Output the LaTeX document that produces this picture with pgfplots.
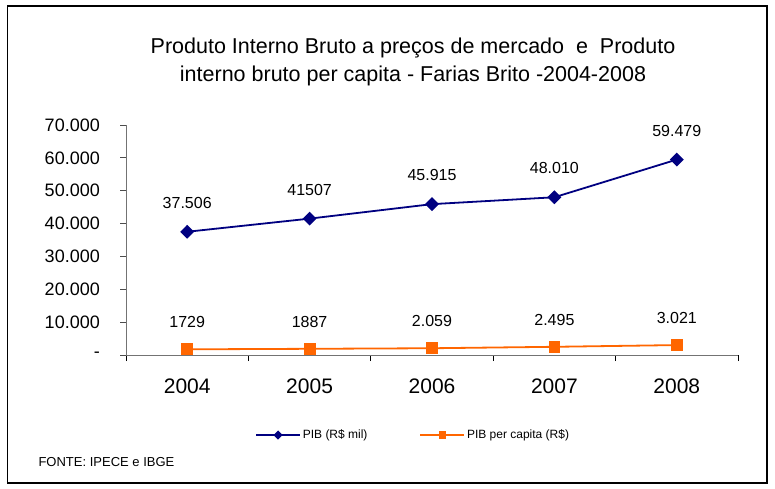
\documentclass[border=0pt]{standalone}
\usepackage{fontspec}
\setmainfont{Liberation Sans}
\usepackage{pgfplots}
\pgfplotsset{compat=1.18}
\definecolor{pibblue}{RGB}{0,0,128}
\definecolor{pcorange}{RGB}{255,102,0}
\pgfplotsset{myimg/.style={legend image code/.code={\draw[##1, mark size=#1, line width=1.5pt, mark repeat=2, mark phase=2] plot coordinates {(0pt,0pt) (22pt,0pt) (44pt,0pt)};}}}
\begin{document}
\begin{tikzpicture}[x=1pt,y=1pt]
\path[use as bounding box] (0,0) rectangle (775,488);
\draw[black, line width=1.3pt] (7.5,5) rectangle (767,482);
\node[align=center, font=\fontsize{21.5}{28}\selectfont] at (413,426)
  {Produto Interno Bruto a preços de mercado\ \ e \ Produto\\interno bruto per capita - Farias Brito -2004-2008};
\node[anchor=west, font=\fontsize{13}{14}\selectfont] at (35,26) {FONTE: IPECE e IBGE};
\begin{axis}[
  at={(126pt,133pt)}, anchor=south west,
  scale only axis, width=612pt, height=230pt,
  xmin=-0.5, xmax=4.5, ymin=0, ymax=70000,
  scaled y ticks=false,
  axis x line*=bottom, axis y line*=left,
  axis line style={black!55, line width=1pt, -},
  xtick={0,1,2,3,4},
  xticklabels={2004,2005,2006,2007,2008},
  minor xtick={-0.5,0.5,1.5,2.5,3.5,4.5},
  ytick={0,10000,20000,30000,40000,50000,60000,70000},
  yticklabels={-,10.000,20.000,30.000,40.000,50.000,60.000,70.000},
  tick align=outside,
  major tick length=6pt, minor tick length=6pt,
  major x tick style={draw=none},
  minor x tick style={black, line width=1pt},
  major y tick style={black!70, line width=1pt},
  x tick label style={font=\fontsize{21}{24}\selectfont, inner sep=0pt, anchor=north, yshift=-18pt},
  y tick label style={font=\fontsize{18}{22}\selectfont, inner sep=0pt, anchor=east, xshift=-20pt},
  legend style={at={(0.211,-0.348)}, anchor=west, draw=none, fill=none,
    font=\fontsize{12}{14}\selectfont, legend columns=2, inner sep=0pt,
    /tikz/every even column/.append style={column sep=50pt}},
  legend cell align=left,
  clip=false,
]
\addplot[color=pibblue, line width=1.8pt, mark=diamond*,
  mark options={solid, xscale=1.33}, mark size=5.7,
  nodes near coords, point meta=explicit symbolic,
  every node near coord/.append style={anchor=center, yshift=29pt, color=black, font=\fontsize{16}{18}\selectfont},
  myimg=3.5]
  table[meta=label] {
x y label
0 37506 37.506
1 41507 41507
2 45915 45.915
3 48010 48.010
4 59479 59.479
};
\addlegendentry{PIB (R\$ mil)}
\addplot[color=pcorange, line width=1.8pt, mark=square*,
  mark options={solid}, mark size=5,
  nodes near coords, point meta=explicit symbolic,
  every node near coord/.append style={anchor=center, yshift=27pt, color=black, font=\fontsize{16}{18}\selectfont},
  myimg=3]
  table[meta=label] {
x y label
0 1729 1729
1 1887 1887
2 2059 2.059
3 2495 2.495
4 3021 3.021
};
\addlegendentry{PIB per capita (R\$)}
\end{axis}
\end{tikzpicture}
\end{document}
